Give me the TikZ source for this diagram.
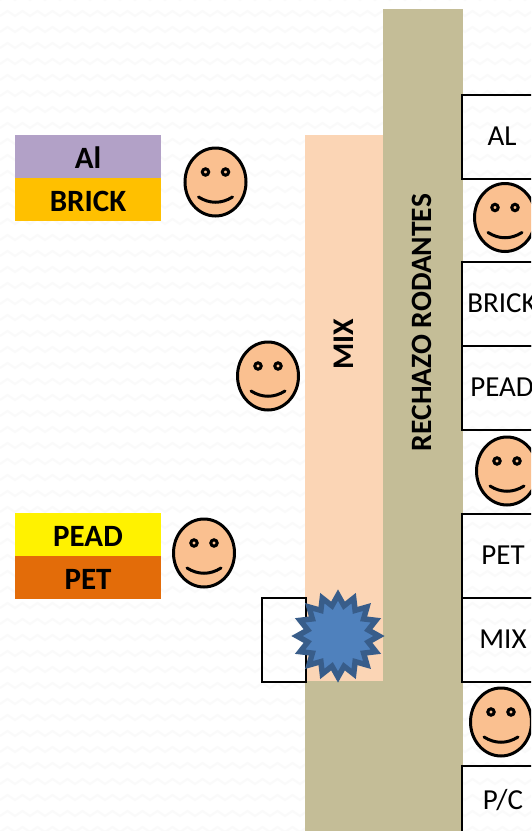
\documentclass[tikz,border=0pt]{standalone}
\usepackage{fontspec}
\setmainfont{Carlito}
\usetikzlibrary{shapes.geometric}
\definecolor{beige}{HTML}{C4BD97}
\definecolor{peach}{HTML}{FBD5B5}
\definecolor{skin}{HTML}{FAC090}
\definecolor{lilac}{HTML}{B2A1C7}
\definecolor{amber}{HTML}{FFC000}
\definecolor{burnt}{HTML}{E36C09}
\definecolor{starfill}{HTML}{4F81BD}
\definecolor{starline}{HTML}{385D8A}
\tikzset{
  band/.style={minimum width=146pt, minimum height=43pt, inner sep=0pt, text height=23pt, text depth=0pt, font=\fontsize{31}{33}\selectfont\bfseries},
  station/.style={draw=black, line width=2.5pt, minimum width=84pt, minimum height=84pt, inner sep=0pt},
  stationtext/.style={font=\fontsize{29}{31}\selectfont},
  worker/.pic={
    \node[ellipse, draw=black, line width=3pt, fill=skin, minimum width=61pt, minimum height=68pt, inner sep=0pt] (-body) at (0,0) {};
    \draw[line width=3pt, fill=skin] (-10,-10) circle (3.2);
    \draw[line width=3pt, fill=skin] (10,-10) circle (3.2);
    \draw[line width=3pt, line cap=round] (-17,15) .. controls (-6,22) and (6,22) .. (17,15);
  }
}
\begin{document}
\begin{tikzpicture}[x=1pt,y=-1pt]
    \useasboundingbox (0,0) rectangle (531,831);
    \clip (0,0) rectangle (531,831);
    % background
    \fill[white] (0,0) rectangle (531,831);
    \foreach \row in {0,16,...,832}
        \draw[black!2, line width=2pt] (0,\row) \foreach \col in {0,15,...,525} {-- ++(7.5,-5) -- ++(7.5,5)};
    % conveyors
    \fill[beige] (383,9) rectangle (463,831);
    \fill[beige] (305,681) rectangle (383,831);
    \fill[peach] (305,135) rectangle (383,681);
    \node[rotate=90, font=\fontsize{29.5}{31}\selectfont\bfseries] (rechazo) at (422,322.5) {RECHAZO RODANTES};
    \node[rotate=90, font=\fontsize{30}{32}\selectfont\bfseries] (mixband) at (344,344) {MIX};
    % left labels
    \node[band, fill=lilac] (al) at (88,156.5) {Al};
    \node[band, fill=amber] (brick) at (88,199.5) {BRICK};
    \node[band, fill=yellow] (pead) at (88,534.5) {PEAD};
    \node[band, fill=burnt] (pet) at (88,577.5) {PET};
    % stations
    \node[station] (stAl) at (504,137) {};
    \node[station] (stBrick) at (504,304) {};
    \node[station] (stPead) at (504,388) {};
    \node[station] (stPet) at (504,556) {};
    \node[station] (stMix) at (504,640) {};
    \node[station] (stPc) at (504,808) {};
    \node[stationtext] at (502,136) {AL};
    \node[stationtext] at (502,303) {BRICK};
    \node[stationtext] at (502,387) {PEAD};
    \node[stationtext] at (503,555) {PET};
    \node[stationtext] at (503,639) {MIX};
    \node[stationtext] at (503,800) {P/C};
    % feeder and blast
    \node[draw=black, line width=2.5pt, minimum width=44pt, minimum height=84pt, inner sep=0pt] (feeder) at (284,640) {};
    \node[star, star points=16, star point ratio=1.33, minimum size=82pt, inner sep=0pt, fill=starfill, draw=starline, line width=5.5pt] (blast) at (338,636) {};
    % workers
    \pic (w1) at (215.5,182) {worker};
    \pic (w2) at (268,376) {worker};
    \pic (w3) at (204,553) {worker};
    \pic (w4) at (505,217.5) {worker};
    \pic (w5) at (507,471) {worker};
    \pic (w6) at (501,722) {worker};
\end{tikzpicture}
\end{document}
